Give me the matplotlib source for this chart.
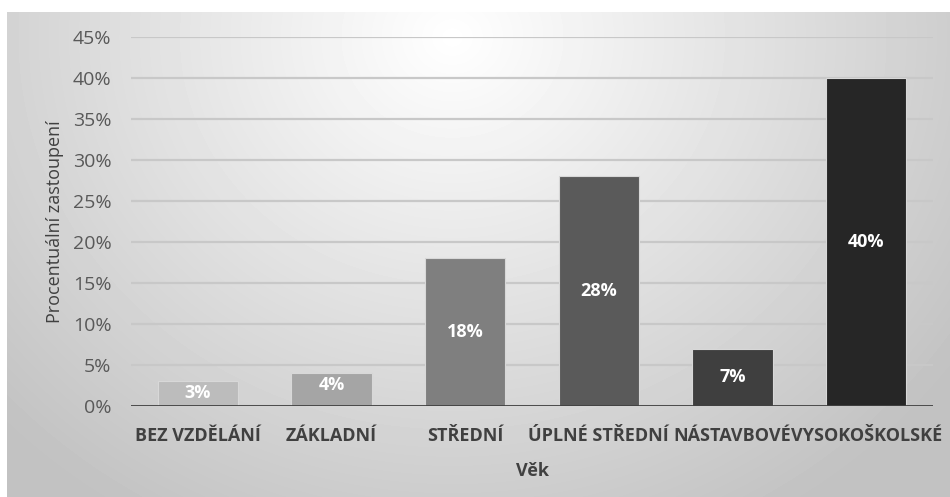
import numpy as np
import matplotlib.pyplot as plt
from matplotlib.ticker import PercentFormatter

categories = ["BEZ VZDĚLÁNÍ", "ZÁKLADNÍ", "STŘEDNÍ", "ÚPLNÉ STŘEDNÍ", "NÁSTAVBOVÉ", "VYSOKOŠKOLSKÉ"]
values = [3, 4, 18, 28, 7, 40]
colors = ["#bcbcbc", "#a5a5a5", "#7f7f7f", "#5a5a5a", "#3f3f3f", "#262626"]

W, H = 950, 497
fig = plt.figure(figsize=(W / 100, H / 100), dpi=100)
fig.patch.set_facecolor("white")

# radial grey background behind the chart
bg = fig.add_axes([7 / W, 0, 1 - 7 / W, (H - 12) / H])
yy, xx = np.mgrid[0:485, 0:943]
r = np.sqrt(((xx - 445) / 620.0) ** 2 + ((yy - 25) / 560.0) ** 2)
shade = np.clip(1.0 - 0.24 * r, 0.76, 1.0)
bg.imshow(shade, cmap="gray", vmin=0, vmax=1, aspect="auto", interpolation="bilinear")
bg.axis("off")

ax = fig.add_axes([131 / W, (H - 406) / H, 802 / W, 369 / H])
ax.patch.set_alpha(0)
x = np.arange(len(categories))
bars = ax.bar(x, values, width=0.6, color=colors, edgecolor="#d8d8d8", linewidth=0.8, zorder=3)

for b, v in zip(bars, values):
    ax.text(b.get_x() + b.get_width() / 2, v / 2 if v > 5 else v - 1.4, f"{v}%",
            ha="center", va="center", color="white", fontsize=13, fontweight="bold",
            family="Open Sans", zorder=4)

ax.set_ylim(0, 45)
ax.set_xlim(-0.5, len(categories) - 0.5)
ax.set_yticks(np.arange(0, 46, 5))
ax.yaxis.set_major_formatter(PercentFormatter(decimals=0))
ax.grid(axis="y", color="#c8c8c8", linewidth=1.6, zorder=0)
ax.axhline(0, color="#404040", linewidth=2, zorder=5)
for s in ax.spines.values():
    s.set_visible(False)
ax.tick_params(axis="both", length=0)
ax.tick_params(axis="y", labelsize=14, labelcolor="#595959", pad=14)
ax.set_xticks(x)
ax.set_xticklabels(categories, fontsize=13, fontweight="bold", color="#404040", family="Open Sans")
ax.tick_params(axis="x", pad=15)
for t in ax.get_yticklabels():
    t.set_family("Open Sans")

ax.set_ylabel("Procentuální zastoupení", fontsize=13, color="#404040", family="Open Sans", labelpad=6)
ax.set_xlabel("Věk", fontsize=13, fontweight="bold", color="#404040", family="Open Sans", labelpad=12)

fig.savefig("out.png", dpi=100)
